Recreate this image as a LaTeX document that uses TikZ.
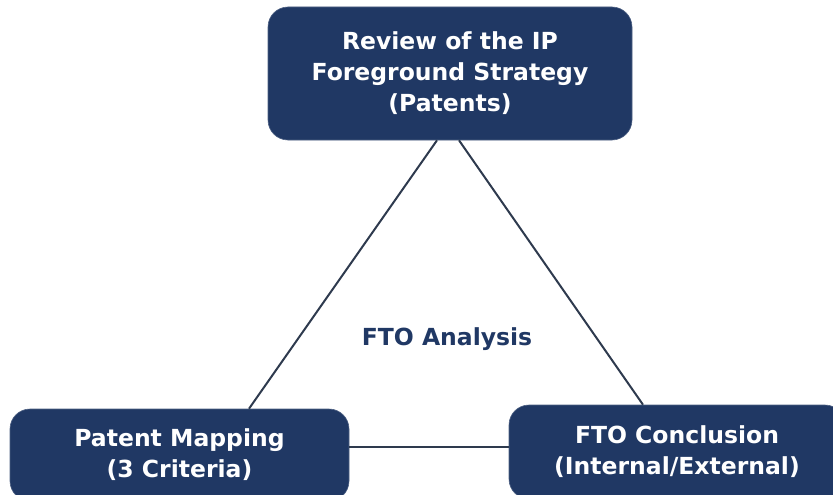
\documentclass[tikz,border=0pt]{standalone}
\usepackage{fontspec}
\setmainfont{DejaVu Sans}
\usetikzlibrary{calc}
\definecolor{navy}{HTML}{203864}
\definecolor{linkgray}{HTML}{2E3A4E}
\tikzset{
  stagefont/.style={font=\bfseries\fontsize{23.5}{31}\selectfont},
  stage/.style={rectangle, rounded corners=20pt, fill=navy, draw=navy!80!white, line width=0.6pt,
    text=white, stagefont, align=center, inner sep=0pt},
  link/.style={draw=linkgray, line width=2pt},
}
\begin{document}
\begin{tikzpicture}[x=1pt,y=-1pt]
  \useasboundingbox (0,0) rectangle (833,495);
  \begin{scope}
    \clip (0,0) rectangle (833,495);
    \node[stage, minimum width=364pt, minimum height=133pt] (review) at (450,73.5)
      {Review of the IP\\Foreground Strategy\\(Patents)};
    \node[stage, minimum width=339pt, minimum height=92pt] (mapping) at (179.5,455)
      {Patent Mapping\\(3 Criteria)};
    \node[stage, minimum width=336pt, minimum height=94pt] (conclusion) at (677,452)
      {FTO Conclusion\\(Internal/External)};
  \end{scope}
  \node[stagefont, text=navy] (fto) at (447,339) {FTO Analysis};
  \draw[link] ([xshift=-13pt]review.south) -- ([xshift=69.5pt]mapping.north);
  \draw[link] ([xshift=9pt]review.south) -- ([xshift=-34pt]conclusion.north);
  \draw[link] ([yshift=8pt]mapping.east) -- ([yshift=5pt]conclusion.west);
\end{tikzpicture}
\end{document}
